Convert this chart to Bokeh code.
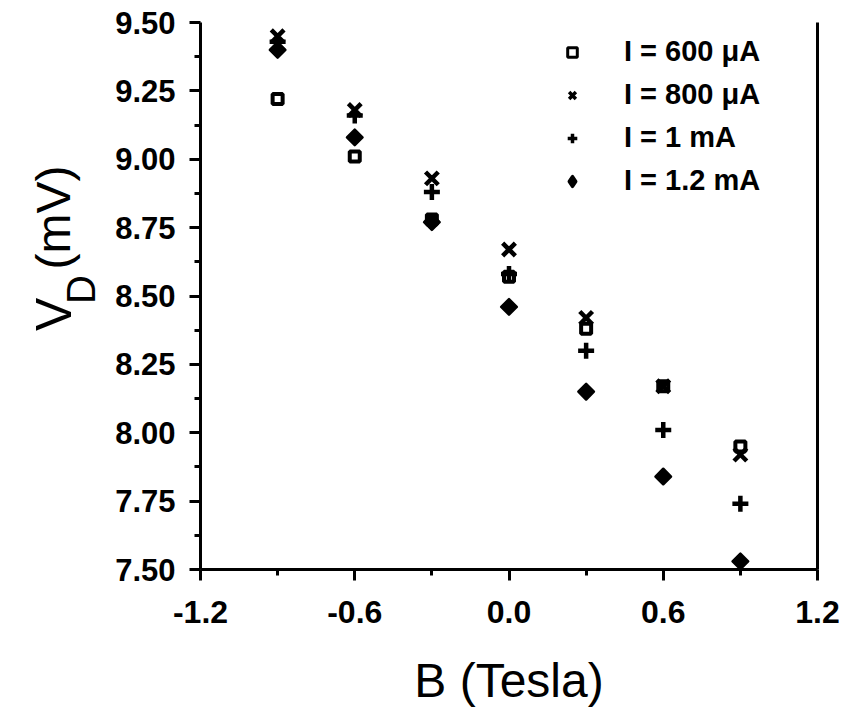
import math
from bokeh.plotting import figure
from bokeh.layouts import row
from bokeh.models import (Range1d, FixedTicker, LinearAxis, Label, Legend, LegendItem)
from bokeh.embed import file_html
from bokeh.resources import INLINE

# ---- data ----
B = [-0.9, -0.6, -0.3, 0.0, 0.3, 0.6, 0.9]
v_600uA = [9.22, 9.01, 8.78, 8.57, 8.38, 8.17, 7.95]
v_800uA = [9.45, 9.18, 8.93, 8.67, 8.42, 8.17, 7.92]
v_1mA = [9.43, 9.16, 8.88, 8.58, 8.30, 8.01, 7.74]
v_1p2mA = [9.40, 9.08, 8.77, 8.46, 8.15, 7.84, 7.53]

x_ticks = [-1.2, -0.6, 0.0, 0.6, 1.2]
x_tick_labels = ["-1.2", "-0.6", "0.0", "0.6", "1.2"]
x_minor = [-0.9, -0.3, 0.3, 0.9]
y_ticks = [7.50, 7.75, 8.00, 8.25, 8.50, 8.75, 9.00, 9.25, 9.50]
y_tick_labels = ["7.50", "7.75", "8.00", "8.25", "8.50", "8.75", "9.00", "9.25", "9.50"]
y_minor = [7.625, 7.875, 8.125, 8.375, 8.625, 8.875, 9.125, 9.375]

series_labels = ["I = 600 \u03bcA", "I = 800 \u03bcA", "I = 1 mA", "I = 1.2 mA"]
x_title = "B (Tesla)"
y_title_parts = ["V", "D", "(mV)"]

FONT = "Liberation Sans"

# ---------------- main plot ----------------
p = figure(width=735, height=709, output_backend="svg", toolbar_location=None,
           x_range=Range1d(-1.2, 1.2), y_range=Range1d(7.5, 9.5),
           min_border_left=90, min_border_right=28, min_border_top=22,
           min_border_bottom=139)
p.background_fill_color = "white"
p.border_fill_color = "white"
p.outline_line_color = None
p.grid.visible = False

for ax in (p.xaxis[0], p.yaxis[0]):
    ax.axis_line_width = 3
    ax.axis_line_color = "black"
    ax.major_tick_line_width = 3
    ax.minor_tick_line_width = 3
    ax.major_tick_line_color = "black"
    ax.minor_tick_line_color = "black"
    ax.major_tick_in = 0
    ax.minor_tick_in = 0
    ax.major_tick_out = 11
    ax.minor_tick_out = 6
    ax.major_label_text_font = FONT
    ax.major_label_text_font_style = "bold"
    ax.major_label_text_color = "black"

p.xaxis[0].ticker = FixedTicker(ticks=x_ticks, minor_ticks=x_minor)
p.xaxis[0].major_label_overrides = {t: l for t, l in zip(x_ticks, x_tick_labels)}
p.xaxis[0].major_label_text_font_size = "32px"
p.xaxis[0].major_label_standoff = 20
p.xaxis[0].axis_label = x_title
p.xaxis[0].axis_label_text_font = FONT
p.xaxis[0].axis_label_text_font_size = "48px"
p.xaxis[0].axis_label_text_font_style = "normal"
p.xaxis[0].axis_label_text_color = "black"
p.xaxis[0].axis_label_standoff = 28

p.yaxis[0].ticker = FixedTicker(ticks=y_ticks, minor_ticks=y_minor)
p.yaxis[0].major_label_overrides = {t: l for t, l in zip(y_ticks, y_tick_labels)}
p.yaxis[0].major_label_text_font_size = "31px"
p.yaxis[0].major_label_standoff = 14

# right frame line
right = LinearAxis(axis_line_width=3, axis_line_color="black",
                   major_tick_line_color=None, minor_tick_line_color=None,
                   major_label_text_font_size="0px",
                   ticker=FixedTicker(ticks=[]))
p.add_layout(right, "right")

# ---- data markers ----
r4 = p.scatter(B, v_1p2mA, marker="square", angle=math.pi / 4, size=11,
               fill_color="black", line_color="black", line_width=2.5,
               line_join="round")
r3 = p.scatter(B, v_1mA, marker="cross", size=16, line_color="black",
               line_width=4.5)
r2 = p.scatter(B, v_800uA, marker="x", size=18, line_color="black",
               line_width=4.5)
r1 = p.scatter(B, v_600uA, marker="square", size=10, fill_color=None,
               line_color="black", line_width=4)

# legend glyphs (hidden renderers on the same data, styled for the key)
l1 = p.scatter(B, v_600uA, marker="square", fill_color=None,
               line_color="black", line_width=3, visible=False)
l2 = p.scatter(B, v_800uA, marker="x", line_color="black", line_width=3.5,
               visible=False)
l3 = p.scatter(B, v_1mA, marker="cross", line_color="black", line_width=3.5,
               visible=False)
l4 = p.scatter(B, v_1p2mA, marker="diamond", fill_color="black",
               line_color="black", line_width=3.5, line_join="round",
               visible=False)

legend = Legend(items=[LegendItem(label=series_labels[0], renderers=[l1]),
                       LegendItem(label=series_labels[1], renderers=[l2]),
                       LegendItem(label=series_labels[2], renderers=[l3]),
                       LegendItem(label=series_labels[3], renderers=[l4])],
                location=(360, 367), padding=0, margin=0, spacing=0,
                glyph_width=24, glyph_height=24, label_height=43,
                label_standoff=40, border_line_color=None,
                background_fill_alpha=0, click_policy="none",
                label_text_font=FONT, label_text_font_size="29px",
                label_text_font_style="bold", label_text_color="black")
p.add_layout(legend)

# ---------------- y-axis title strip (left) ----------------
t = figure(width=110, height=709, output_backend="svg", toolbar_location=None,
           x_range=Range1d(0, 110), y_range=Range1d(0, 709),
           min_border=0, x_axis_location=None, y_axis_location=None)
t.outline_line_color = None
t.grid.visible = False
t.background_fill_color = "white"
t.border_fill_color = "white"

t.add_layout(Label(x=53, y=309, text=y_title_parts[0], angle=math.pi / 2,
                   text_font=FONT, text_font_size="50px",
                   text_baseline="alphabetic", text_align="left",
                   text_color="black"))
t.add_layout(Label(x=80, y=344, text=y_title_parts[1], angle=math.pi / 2,
                   text_font=FONT, text_font_size="40px",
                   text_baseline="alphabetic", text_align="left",
                   text_color="black"))
t.add_layout(Label(x=53, y=389, text=y_title_parts[2], angle=math.pi / 2,
                   text_font=FONT, text_font_size="48px",
                   text_baseline="alphabetic", text_align="left",
                   text_color="black"))

layout = row(t, p, spacing=0)
open("out.html", "w").write(file_html(layout, INLINE))
